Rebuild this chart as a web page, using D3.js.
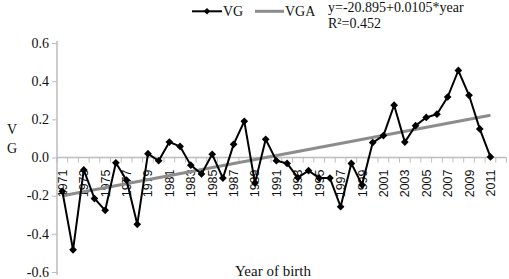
<!DOCTYPE html>
<html>
<head>
<meta charset="utf-8">
<script src="https://cdn.jsdelivr.net/npm/d3@7"></script>
<style>
  body { margin: 0; background: #fff; }
  svg text { fill: #111; }
  .serif { font-family: "Liberation Serif", "DejaVu Serif", serif; }
</style>
</head>
<body>
<div id="chart"></div>
<script>
// years on the category axis (2012 is an empty slot at the end)
const years = d3.range(1971, 2013)
const vg_values = [
    -0.177, -0.484, -0.065, -0.215, -0.277, -0.028, -0.119, -0.350, 0.020, -0.017,
    0.081, 0.058, -0.040, -0.086, 0.017, -0.108, 0.069, 0.190, -0.134, 0.095,
    -0.017, -0.031, -0.105, -0.069, -0.108, -0.108, -0.258, -0.031, -0.143, 0.078,
    0.115, 0.274, 0.081, 0.167, 0.210, 0.227, 0.317, 0.456, 0.326, 0.150,
    0.003, null
]
// fitted trend (VGA), read at its two ends
const vga_years = [1971, 2011]
const vga_values = [-0.200, 0.221]
const y_ticks = [-0.6, -0.4, -0.2, 0.0, 0.2, 0.4, 0.6]
const x_labels = d3.range(1971, 2012, 2)
const equation = ["y=-20.895+0.0105*year", "R\u00b2=0.452"]

const width = 509, height = 279
const svg = d3.select("#chart").append("svg")
    .attr("width", width)
    .attr("height", height)

const x = d3.scaleBand()
    .domain(years)
    .range([57, 506.5])
    .padding(0)

const y = d3.scaleLinear()
    .domain([-0.6, 0.6])
    .range([272, 43])

const cx = yr => x(yr) + x.bandwidth() / 2

// y axis
const yAxis = svg.append("g")
    .attr("transform", "translate(57,0)")
    .call(d3.axisLeft(y)
        .tickValues(y_ticks)
        .tickSize(5)
        .tickPadding(3)
        .tickFormat(d3.format(".1f")))
yAxis.select(".domain").attr("stroke", "#bdbdbd").attr("stroke-width", 1.5)
    .attr("d", "M0," + (y(0.6) - 2) + "V" + (y(-0.6) + 3))
yAxis.selectAll(".tick line").attr("stroke", "#bdbdbd")
yAxis.selectAll(".tick text")
    .attr("class", "serif")
    .style("font-size", "14px")
    .attr("fill", "#333")
    .attr("dy", "0.3em")
    .text(d => d3.format(".1f")(d).replace("\u2212", "-"))

// x axis on zero line, ticks at band edges
const xg = svg.append("g").attr("transform", "translate(0," + y(0) + ")")
xg.append("line")
    .attr("x1", x.range()[0]).attr("x2", x.range()[1])
    .attr("stroke", "#bdbdbd").attr("stroke-width", 1.5)
const edges = years.map(d => x(d)).concat([x.range()[1]])
xg.selectAll(".edge")
    .data(edges)
    .enter()
    .append("line")
    .attr("x1", d => d).attr("x2", d => d)
    .attr("y1", 0).attr("y2", 5)
    .attr("stroke", "#bdbdbd")
xg.selectAll(".xlab")
    .data(x_labels)
    .enter()
    .append("text")
    .attr("transform", d => "translate(" + cx(d) + ",12) rotate(-90)")
    .attr("text-anchor", "end")
    .attr("dy", "0.36em")
    .style("font-family", "'Liberation Sans', Arial, sans-serif")
    .style("font-size", "12.5px")
    .attr("fill", "#222")
    .text(d => d)

// trend line
const vga = vga_years.map((d, i) => ({year: d, value: vga_values[i]}))
svg.append("path")
    .datum(vga)
    .attr("fill", "none")
    .attr("stroke", "#8c8c8c")
    .attr("stroke-width", 3)
    .attr("d", d3.line().x(d => cx(d.year)).y(d => y(d.value)))

// VG series
const vg = years.map((d, i) => ({year: d, value: vg_values[i]})).filter(d => d.value !== null)
svg.append("path")
    .datum(vg)
    .attr("fill", "none")
    .attr("stroke", "#000")
    .attr("stroke-width", 2)
    .attr("stroke-linejoin", "miter")
    .attr("d", d3.line().x(d => cx(d.year)).y(d => y(d.value)))

const diamond = d3.symbol().type(d3.symbolDiamond2).size(38)
svg.append("g")
    .selectAll("path")
    .data(vg)
    .enter()
    .append("path")
    .attr("transform", d => "translate(" + cx(d.year) + "," + y(d.value) + ")")
    .attr("d", diamond)
    .attr("fill", "#000")

// legend
const legend = svg.append("g")
legend.append("line")
    .attr("x1", 192).attr("x2", 222).attr("y1", 11.3).attr("y2", 11.3)
    .attr("stroke", "#000").attr("stroke-width", 2)
legend.append("path")
    .attr("transform", "translate(207,11.3)")
    .attr("d", d3.symbol().type(d3.symbolDiamond2).size(26))
legend.append("text")
    .attr("class", "serif")
    .attr("x", 223).attr("y", 16)
    .style("font-size", "14px")
    .text("VG")
legend.append("line")
    .attr("x1", 255).attr("x2", 284).attr("y1", 11.3).attr("y2", 11.3)
    .attr("stroke", "#8c8c8c").attr("stroke-width", 3)
legend.append("text")
    .attr("class", "serif")
    .attr("x", 285).attr("y", 16)
    .style("font-size", "14px")
    .text("VGA")
legend.selectAll(".eq")
    .data(equation)
    .enter()
    .append("text")
    .attr("class", "serif")
    .attr("x", 328)
    .attr("y", (d, i) => 11.5 + i * 16)
    .style("font-size", "14px")
    .text(d => d)

// axis titles
svg.selectAll(".ytitle")
    .data(["V", "G"])
    .enter()
    .append("text")
    .attr("class", "serif")
    .attr("x", 12)
    .attr("y", (d, i) => 134 + i * 19)
    .attr("text-anchor", "middle")
    .style("font-size", "14px")
    .text(d => d)

svg.append("text")
    .attr("class", "serif")
    .attr("x", 273)
    .attr("y", 276)
    .attr("text-anchor", "middle")
    .style("font-size", "15px")
    .text("Year of birth")
</script>
</body>
</html>
